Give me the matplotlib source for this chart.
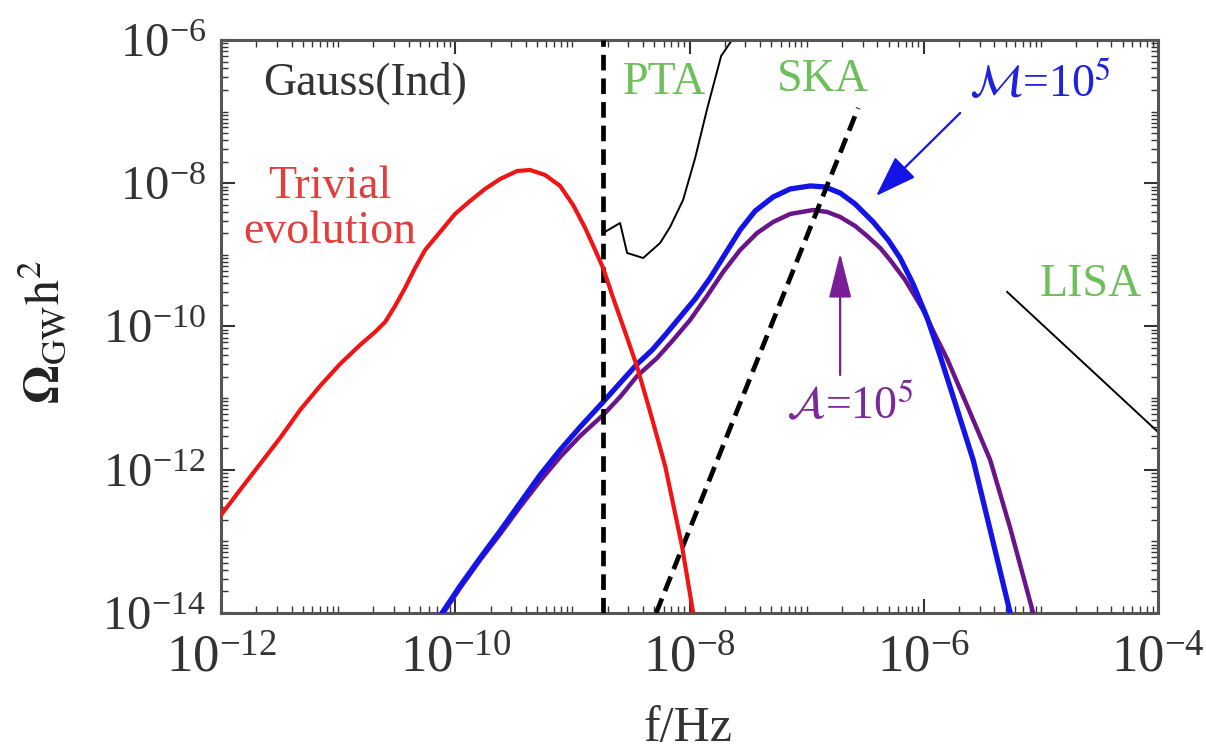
import numpy as np
import matplotlib
matplotlib.use("Agg")
import matplotlib.pyplot as plt
from matplotlib.ticker import FixedLocator, LogLocator, NullFormatter

plt.rcParams["font.family"] = ["Liberation Serif", "DejaVu Serif"]
plt.rcParams["mathtext.fontset"] = "stix"

# all curves as log10(f/Hz), log10(Omega_GW h^2)
red_lf = [-12.000, -11.838, -11.667, -11.496, -11.325, -11.155, -10.984, -10.813,
          -10.685, -10.599, -10.514, -10.429, -10.343, -10.258, -10.130, -10.002,
          -9.874, -9.746, -9.617, -9.472, -9.361, -9.233, -9.105, -8.994, -8.891,
          -8.806, -8.738, -8.652, -8.550, -8.447, -8.336, -8.208, -8.063, -7.969, -7.909]
red_lo = [-12.632, -12.283, -11.920, -11.557, -11.166, -10.831, -10.524, -10.258,
          -10.077, -9.937, -9.714, -9.463, -9.183, -8.932, -8.681, -8.429,
          -8.248, -8.080, -7.941, -7.829, -7.815, -7.885, -8.038, -8.304, -8.625,
          -8.932, -9.183, -9.602, -10.077, -10.566, -11.194, -11.948, -13.079, -14.000, -14.656]

blue_lf = [-10.215, -10.113, -9.959, -9.788, -9.617, -9.447, -9.276, -9.105, -8.934,
           -8.738, -8.593, -8.447, -8.319, -8.208, -8.080, -7.952, -7.824, -7.696,
           -7.568, -7.440, -7.286, -7.141, -6.970, -6.842, -6.714, -6.586, -6.432,
           -6.304, -6.202, -6.091, -5.971, -5.860, -5.732, -5.578, -5.433, -5.262, -5.177]
blue_lo = [-14.377, -14.000, -13.623, -13.232, -12.855, -12.464, -12.073, -11.724, -11.403,
           -11.054, -10.789, -10.524, -10.328, -10.119, -9.867, -9.616, -9.323, -8.988,
           -8.653, -8.388, -8.192, -8.080, -8.038, -8.052, -8.136, -8.290, -8.541,
           -8.792, -9.044, -9.407, -9.881, -10.412, -11.068, -11.864, -12.841, -14.000, -14.656]

purple_lf = [-10.215, -10.113, -9.959, -9.788, -9.617, -9.447, -9.276, -9.105, -8.934,
             -8.738, -8.593, -8.447, -8.277, -8.140, -7.995, -7.850, -7.713, -7.568,
             -7.423, -7.286, -7.141, -6.945, -6.825, -6.714, -6.586, -6.483, -6.372,
             -6.287, -6.159, -6.005, -5.903, -5.800, -5.621, -5.433, -5.262, -5.066, -4.980]
purple_lo = [-14.405, -14.028, -13.651, -13.260, -12.897, -12.520, -12.157, -11.822, -11.529,
             -11.236, -10.984, -10.691, -10.440, -10.189, -9.909, -9.574, -9.239, -8.932,
             -8.695, -8.541, -8.429, -8.374, -8.401, -8.471, -8.597, -8.737, -8.904,
             -9.072, -9.351, -9.770, -10.119, -10.454, -11.138, -11.864, -12.814, -14.000, -14.656]

pta_lf = [-8.738, -8.593, -8.533, -8.396, -8.251, -8.166, -8.055, -7.952, -7.850, -7.730, -7.602]
pta_lo = [-8.695, -8.555, -8.974, -9.044, -8.834, -8.611, -8.234, -7.648, -6.963, -6.223, -5.916]

ska_lf = [-8.285, -6.560]
ska_lo = [-14.000, -6.949]

lisa_lf = [-5.288, -4.000]
lisa_lo = [-9.518, -11.473]

gauss_cut_lf = -8.738


def p10(v):
    return 10.0 ** np.asarray(v, dtype=float)


fig = plt.figure(figsize=(12.06, 7.5), dpi=100)
ax = fig.add_axes([0.1833, 0.1827, 0.7769, 0.7640])
ax.set_xscale("log")
ax.set_yscale("log")
ax.set_xlim(1e-12, 1e-4)
ax.set_ylim(1e-14, 1e-6)

ax.plot(p10(purple_lf), p10(purple_lo), color="#6a1489", lw=3.2, zorder=3)
ax.plot(p10(blue_lf), p10(blue_lo), color="#1414e6", lw=3.8, zorder=4)
ax.plot(p10(red_lf), p10(red_lo), color="#f01414", lw=3.0, zorder=6)
ax.plot(p10(pta_lf), p10(pta_lo), color="black", lw=1.4, zorder=2)
ax.plot(p10(lisa_lf), p10(lisa_lo), color="black", lw=1.4, zorder=2)
dash = (0, (3.3, 1.7))
ax.plot(p10(ska_lf), p10(ska_lo), color="black", lw=3.4, ls=dash, zorder=5)
ax.axvline(10 ** gauss_cut_lf, color="black", lw=3.4, ls=dash, zorder=5)

# arrows pointing at the two peaks
ax.annotate("", xy=(10 ** -6.407, 10 ** -8.178), xytext=(10 ** -5.689, 10 ** -7.019),
            arrowprops=dict(arrowstyle="-|>,head_length=1.3,head_width=0.45",
                            mutation_scale=20, color="#1414e6", lw=1.6,
                            shrinkA=0, shrinkB=0))
ax.annotate("", xy=(10 ** -6.714, 10 ** -8.974), xytext=(10 ** -6.714, 10 ** -10.677),
            arrowprops=dict(arrowstyle="-|>,head_length=1.4,head_width=0.35",
                            mutation_scale=20, color="#7a1e96", lw=1.6,
                            shrinkA=0, shrinkB=0))


def at(lf, lo, s, **kw):
    ax.text(10 ** lf, 10 ** lo, s, ha="center", va="center", fontsize=33, **kw)


at(-10.770, -6.600, "Gauss(Ind)", color="#333333")
at(-11.069, -8.050, "Trivial", color="#e23f3c")
at(-11.069, -8.680, "evolution", color="#e23f3c")
at(-8.217, -6.600, "PTA", color="#6dbf5a")
at(-6.859, -6.558, "SKA", color="#6dbf5a")
at(-5.006, -6.628, r"$\mathcal{M}$=10$^5$", color="#2020e0")
at(-6.629, -11.124, r"$\mathcal{A}$=10$^5$", color="#7a2a9a")
at(-4.571, -9.421, "LISA", color="#6dbf5a")

ax.xaxis.set_major_locator(FixedLocator([1e-12, 1e-10, 1e-8, 1e-6, 1e-4]))
ax.yaxis.set_major_locator(FixedLocator([1e-14, 1e-12, 1e-10, 1e-8, 1e-6]))
for a in (ax.xaxis, ax.yaxis):
    a.set_minor_locator(LogLocator(base=10, subs=np.arange(1, 10), numticks=100))
    a.set_minor_formatter(NullFormatter())
ax.tick_params(which="both", direction="in", top=True, right=True, color="#333333",
               labelcolor="#333333")
ax.tick_params(which="major", length=10, width=1.5)
ax.tick_params(which="minor", length=5, width=1.0)
ax.tick_params(axis="y", which="major", labelsize=35, pad=11)
ax.tick_params(axis="x", which="major", labelsize=38, pad=16)
for s in ax.spines.values():
    s.set_linewidth(2.2)
    s.set_color("#555555")

ax.set_xlabel("f/Hz", fontsize=36, color="#333333")
ax.xaxis.set_label_coords(0.498, -0.162)
ax.set_ylabel(r"$\mathbf{\Omega}_{\mathrm{GW}}\mathrm{h}^2$", fontsize=36, color="#222222")
ax.yaxis.set_label_coords(-0.161, 0.49)

fig.savefig("out.png", dpi=100)
